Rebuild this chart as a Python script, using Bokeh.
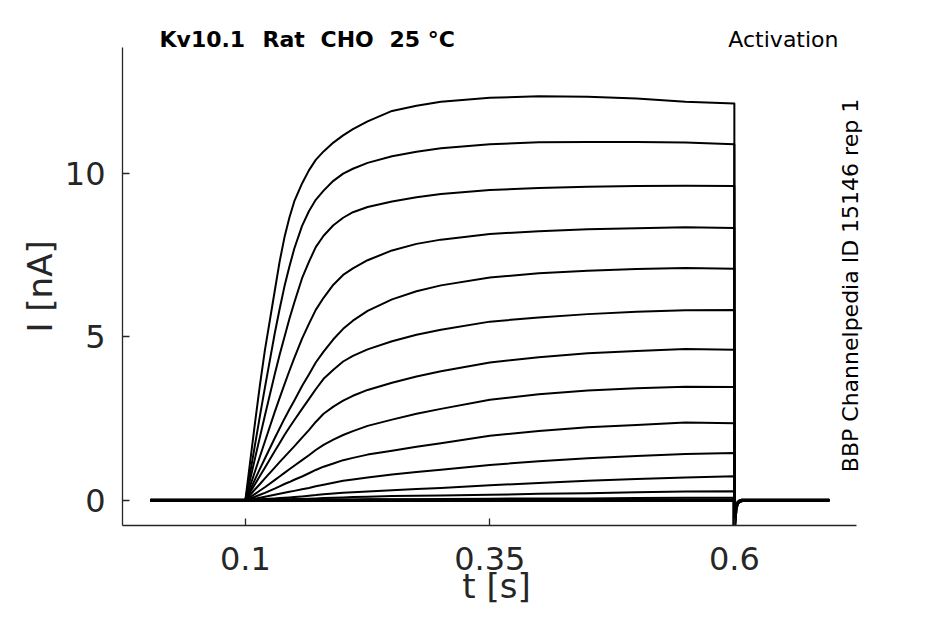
from bokeh.plotting import figure
from bokeh.models import Range1d, FixedTicker, Label, Title
from bokeh.embed import file_html
from bokeh.resources import INLINE

# ---------------- data ----------------
t_pre = [0.003, 0.1]
i_pre = [0.0, 0.0]

t_step = [0.1, 0.105, 0.11, 0.115, 0.12, 0.13, 0.135, 0.14, 0.145, 0.15, 0.158, 0.165, 0.172, 0.18,
          0.19, 0.2, 0.21, 0.225, 0.25, 0.275, 0.3, 0.35, 0.4, 0.45, 0.5, 0.55, 0.6]

trace_01 = [0, 1.2, 2.4, 3.55, 4.6, 6.4, 7.3, 8.05, 8.65, 9.15, 9.7, 10.1, 10.42, 10.68, 10.95, 11.17, 11.36, 11.6, 11.92, 12.08, 12.2, 12.32, 12.37, 12.35, 12.3, 12.2, 12.15]
trace_02 = [0, 0.85, 1.72, 2.6, 3.45, 5.1, 5.85, 6.55, 7.15, 7.7, 8.4, 8.85, 9.2, 9.48, 9.78, 10.0, 10.15, 10.33, 10.53, 10.67, 10.78, 10.9, 10.96, 10.97, 10.97, 10.95, 10.9]
trace_03 = [0, 0.65, 1.3, 1.95, 2.6, 3.85, 4.45, 5.0, 5.55, 6.05, 6.8, 7.3, 7.75, 8.1, 8.42, 8.65, 8.82, 8.98, 9.15, 9.28, 9.38, 9.5, 9.56, 9.6, 9.62, 9.63, 9.62]
trace_04 = [0, 0.45, 0.9, 1.35, 1.8, 2.7, 3.13, 3.55, 3.96, 4.35, 4.95, 5.4, 5.83, 6.2, 6.6, 6.9, 7.1, 7.35, 7.65, 7.85, 7.98, 8.15, 8.24, 8.3, 8.33, 8.36, 8.34]
trace_05 = [0, 0.32, 0.65, 0.97, 1.28, 1.9, 2.2, 2.5, 2.78, 3.05, 3.5, 3.85, 4.22, 4.55, 4.93, 5.25, 5.5, 5.8, 6.15, 6.4, 6.58, 6.82, 6.95, 7.03, 7.08, 7.11, 7.09]
trace_06 = [0, 0.25, 0.5, 0.75, 1.0, 1.5, 1.75, 2.0, 2.23, 2.45, 2.8, 3.1, 3.4, 3.72, 4.0, 4.25, 4.42, 4.62, 4.87, 5.07, 5.22, 5.47, 5.6, 5.7, 5.77, 5.82, 5.83]
trace_07 = [0, 0.17, 0.34, 0.5, 0.67, 1.0, 1.17, 1.33, 1.49, 1.65, 1.92, 2.15, 2.4, 2.65, 2.87, 3.05, 3.2, 3.38, 3.6, 3.79, 3.95, 4.22, 4.38, 4.5, 4.57, 4.63, 4.61]
trace_08 = [0, 0.1, 0.2, 0.3, 0.4, 0.62, 0.73, 0.84, 0.95, 1.06, 1.23, 1.38, 1.54, 1.7, 1.86, 2.0, 2.12, 2.28, 2.47, 2.65, 2.8, 3.08, 3.25, 3.36, 3.43, 3.48, 3.47]
trace_09 = [0, 0.05, 0.11, 0.17, 0.23, 0.36, 0.43, 0.5, 0.56, 0.63, 0.73, 0.83, 0.93, 1.03, 1.13, 1.23, 1.3, 1.4, 1.52, 1.64, 1.75, 1.98, 2.12, 2.24, 2.31, 2.38, 2.36]
trace_10 = [0, 0.02, 0.05, 0.08, 0.11, 0.17, 0.2, 0.23, 0.26, 0.29, 0.34, 0.38, 0.43, 0.48, 0.54, 0.6, 0.64, 0.7, 0.79, 0.87, 0.94, 1.08, 1.2, 1.29, 1.36, 1.42, 1.45]
trace_11 = [0, 0.01, 0.02, 0.03, 0.04, 0.06, 0.07, 0.08, 0.09, 0.1, 0.12, 0.14, 0.16, 0.19, 0.21, 0.23, 0.25, 0.27, 0.31, 0.35, 0.38, 0.46, 0.53, 0.6, 0.65, 0.7, 0.74]
trace_12 = [0, 0, 0, 0.01, 0.01, 0.02, 0.02, 0.03, 0.03, 0.04, 0.04, 0.05, 0.06, 0.07, 0.08, 0.09, 0.1, 0.11, 0.13, 0.14, 0.15, 0.17, 0.2, 0.22, 0.25, 0.27, 0.28]
trace_13 = [0, 0, 0, 0, 0, 0, 0, 0.01, 0.01, 0.01, 0.01, 0.01, 0.01, 0.02, 0.02, 0.02, 0.02, 0.03, 0.03, 0.03, 0.04, 0.05, 0.06, 0.06, 0.07, 0.08, 0.08]
trace_14 = [0, 0, 0, 0, 0, 0, 0, 0, 0, 0, 0, 0, 0, 0, 0, 0, 0, 0, 0, 0, 0, 0, 0, 0, 0, 0, 0]
trace_15 = [0, 0, 0, 0, 0, 0, 0, 0, 0, 0, 0, 0, 0, 0, 0, 0, 0, 0, 0, 0, 0, 0, 0, 0, 0, 0, 0]
trace_16 = [0, 0, 0, 0, 0, 0, 0, 0, 0, 0, 0, 0, 0, 0, 0, 0, 0, 0, 0, 0, 0, 0, 0, 0, 0, 0, 0]

t_tail = [0.6, 0.6008, 0.6015, 0.603, 0.605, 0.608, 0.697]
i_tail = [-0.8, -0.5, -0.25, -0.1, -0.03, 0.0, 0.0]

active_traces = [trace_01, trace_02, trace_03, trace_04, trace_05, trace_06,
                 trace_07, trace_08, trace_09, trace_10, trace_11, trace_12, trace_13]
flat_traces = [trace_14, trace_15, trace_16]

x_ticks = [0.1, 0.35, 0.6]
x_tick_labels = ["0.1", "0.35", "0.6"]
y_ticks = [0, 5, 10]
y_tick_labels = ["0", "5", "10"]

title_words = ["Kv10.1", "Rat", "CHO", "25 °C"]
title_right = "Activation"
side_text = "BBP Channelpedia ID 15146 rep 1"
x_label = "t [s]"
y_label = "I [nA]"

# axes extent (data units) -- the frame itself is a bit larger to host the texts
x_axis_bounds = (-0.0256, 0.7247)
y_axis_bounds = (-0.77, 13.86)

# ---------------- figure ----------------
FONT = "DejaVu Sans"
AX = "#262626"

p = figure(width=929, height=608,
           x_range=Range1d(-0.0256, 0.7392), y_range=Range1d(-0.77, 14.81),
           output_backend="svg", toolbar_location=None,
           min_border_left=122, min_border_right=59,
           min_border_top=16, min_border_bottom=82)
p.background_fill_color = "white"
p.border_fill_color = "white"
p.outline_line_color = None
p.xgrid.grid_line_color = None
p.ygrid.grid_line_color = None


def full(trace):
    return t_pre + t_step + t_tail, i_pre + trace + i_tail


xs_a, ys_a = zip(*[full(tr) for tr in active_traces])
xs_f, ys_f = zip(*[full(tr) for tr in flat_traces])

p.multi_line(list(xs_f), list(ys_f), line_color="black", line_width=3.4, line_join="round")
p.multi_line(list(xs_a), list(ys_a), line_color="black", line_width=2.0, line_join="round")

for ax in (p.xaxis[0], p.yaxis[0]):
    ax.axis_line_color = AX
    ax.axis_line_width = 1.3
    ax.major_tick_line_color = AX
    ax.major_tick_line_width = 1.3
    ax.major_tick_in = 7
    ax.major_tick_out = 0
    ax.minor_tick_line_color = None
    ax.major_label_text_font = FONT
    ax.major_label_text_font_size = "32px"
    ax.major_label_text_color = AX
    ax.axis_label_text_font = FONT
    ax.axis_label_text_font_size = "34px"
    ax.axis_label_text_font_style = "normal"
    ax.axis_label_text_color = AX

p.xaxis.bounds = x_axis_bounds
p.yaxis.bounds = y_axis_bounds
p.xaxis.ticker = FixedTicker(ticks=x_ticks)
p.xaxis.major_label_overrides = dict(zip(x_ticks, x_tick_labels))
p.yaxis.ticker = FixedTicker(ticks=y_ticks)
p.yaxis.major_label_overrides = dict(zip(y_ticks, y_tick_labels))
p.xaxis.axis_label = x_label
p.xaxis.major_label_standoff = 21
p.xaxis.axis_label_standoff = -7
p.yaxis.major_label_standoff = 17

# y label as a left-side title so that it can be centred on the drawn axis
p.add_layout(Title(text=y_label, align="left", offset=193, standoff=4,
                   text_font=FONT, text_font_size="34px", text_font_style="normal",
                   text_color=AX), "left")

# title words (screen units measured from the frame's lower-left corner)
for word, wx in zip(title_words, [37, 140, 198, 267]):
    p.add_layout(Label(x=wx, y=486, x_units="screen", y_units="screen", text=word,
                       text_font=FONT, text_font_size="22px", text_font_style="bold",
                       text_color="black", text_align="left", text_baseline="alphabetic"))
p.add_layout(Label(x=716, y=486, x_units="screen", y_units="screen", text=title_right,
                   text_font=FONT, text_font_size="22px", text_color="black",
                   text_align="right", text_baseline="alphabetic"))
p.add_layout(Label(x=728, y=240, x_units="screen", y_units="screen", text=side_text,
                   angle=90, angle_units="deg",
                   text_font=FONT, text_font_size="22px", text_color="black",
                   text_align="center", text_baseline="alphabetic"))

open("out.html", "w").write(file_html(p, INLINE))
